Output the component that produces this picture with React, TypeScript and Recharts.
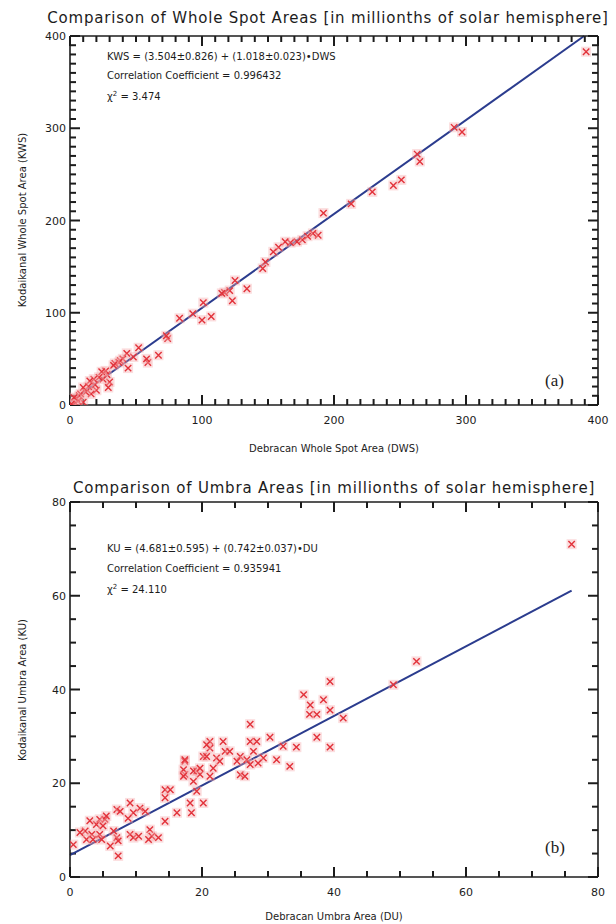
import { ScatterChart, Scatter, XAxis, YAxis, ReferenceLine } from "recharts";

// (a) whole spot areas: Debrecen (DWS) vs Kodaikanal (KWS)
const wholeDws = [
  391, 297, 291, 265, 263, 251, 245, 229, 213, 192, 188, 184, 180, 176, 172, 167, 163, 158, 154, 148,
  146, 134, 125, 123, 121, 117, 115, 107, 101, 100, 93, 83, 74, 73, 67, 59, 58, 52, 48, 44,
  43, 40, 38, 37, 34, 33, 30, 29, 28, 27, 25, 24, 22, 20, 19, 18, 16, 15, 14, 12,
  10, 10, 8, 7, 6, 5, 4, 3, 2, 1,
];
const wholeKws = [
  383, 296, 301, 264, 272, 244, 238, 231, 218, 208, 184, 186, 183, 179, 177, 176, 177, 171, 166, 155,
  148, 126, 135, 113, 124, 122, 121, 96, 111, 92, 99, 94, 72, 75, 54, 46, 50, 62, 52, 40,
  56, 50, 48, 46, 45, 43, 25, 19, 33, 37, 28, 36, 30, 16, 22, 28, 12, 26, 20, 14,
  19, 3, 12, 10, 4, 7, 2, 8, 0, 1,
];
const wholeFit = [3.504, 1.018];
const wholeMajor = [0, 100, 200, 300, 400];

// (b) umbra areas: Debrecen (DU) vs Kodaikanal (KU)
const umbraDu = [
  76, 52.5, 49, 39.4, 35.4, 38.4, 36.4, 39.4, 36.3, 37.4, 41.4, 37.4, 39.4,
  27.3, 30.3, 27.3, 28.3, 34.3, 32.3, 33.3, 31.3, 29.3, 28.5, 27.8, 25.8, 26.8, 23.2, 21.2, 21.2,
  23.5, 24.2, 20.2, 22.2, 22.7, 25.3, 27.3, 25.8, 26.5, 21.7, 21.2,
  20.7, 20.7, 17.4, 19.2, 19.7, 17.4, 18.7, 19.2, 18.2, 20.2, 18.4, 16.2, 17.4, 17.2, 18.7, 19.7, 17.2,
  14.4, 15.2, 14.4, 14.4, 12.1, 12.4, 11.9, 13.4, 10.6, 11.4, 9.1, 9.6, 8.8, 7.1, 7.6, 9.1, 9.6,
  10.4, 7.1, 7.3, 6.1, 7.3, 6.6,
  4.5, 5.3, 4, 5, 2.3, 3.3, 2.5, 3.5, 4.5, 4.8, 0.5, 1.5, 3, 5.5,
];
const umbraKu = [
  71, 46, 41, 41.7, 38.9, 37.8, 36.7, 35.6, 34.7, 34.7, 33.9, 29.8, 27.7,
  32.6, 29.8, 28.9, 28.9, 27.7, 27.9, 23.6, 25, 25.4, 24.3, 26.8, 25.7, 25, 28.9, 28.9, 27.5,
  26.8, 26.8, 25.7, 25.4, 24.7, 24.7, 24, 21.8, 21.5, 23.2, 21.5,
  28.2, 25.7, 24.7, 22.6, 21.9, 21.9, 20.4, 18.3, 15.8, 15.8, 13.7, 13.7, 25, 22.9, 22.6, 23.2, 21.5,
  18.6, 18.6, 16.9, 11.9, 10.1, 8.7, 8, 8.4, 14.7, 14, 15.8, 13.7, 12.5, 14.4, 14, 9.1, 8.4,
  8.7, 8.4, 7.7, 6.6, 4.5, 9.8,
  12.3, 12.3, 11.2, 10.9, 9.8, 9.1, 8, 8, 9.1, 8, 6.9, 9.5, 12, 13,
];
const umbraFit = [4.681, 0.742];
const umbraMajor = [0, 20, 40, 60, 80];

const FONT = "'DejaVu Sans', sans-serif";
const RED = "#e2323a";
const BLUE = "#2b3c8e";
const INK = "#1c1c1c";

function Cross(props: any) {
  const { cx, cy } = props;
  if (cx == null || cy == null) return null;
  const s = 3.2;
  return (
    <g>
      <rect x={cx - 5} y={cy - 5} width={10} height={10} fill="#f4a9ad" opacity={0.4} />
      <path
        d={`M${cx - s},${cy - s}L${cx + s},${cy + s}M${cx - s},${cy + s}L${cx + s},${cy - s}`}
        stroke={RED}
        strokeWidth={1.4}
      />
    </g>
  );
}

function TickLabel(props: any) {
  const { x, y, payload, side, major } = props;
  const v = payload ? payload.value : 0;
  if (!major.includes(v)) return null;
  if (side === "bottom")
    return (
      <text x={x} y={y + 19} textAnchor="middle" fontSize={11} fontFamily={FONT} fill={INK}>
        {v}
      </text>
    );
  return (
    <text x={x - 4} y={y + 4} textAnchor="end" fontSize={11} fontFamily={FONT} fill={INK}>
      {v}
    </text>
  );
}

function Panel(props: {
  xs: number[];
  ys: number[];
  fit: number[];
  max: number;
  major: number[];
  minor: number;
  plotTop: number;
  plotBottom: number;
  lineEnd: number;
}) {
  const { xs, ys, fit, max, major, minor, plotTop, plotBottom, lineEnd } = props;
  const H = 462;
  const plotW = 616 - 70 - 18;
  const plotH = plotBottom - plotTop;
  const data = xs.map((x, i) => ({ x, y: ys[i] }));
  const ticks = Array.from({ length: max / minor + 1 }, (_, i) => i * minor);
  const axisLine = { stroke: INK, strokeWidth: 1.6 };
  const common = {
    type: "number" as const,
    domain: [0, max],
    ticks,
    interval: 0 as const,
    tickSize: 0,
    tickMargin: 0,
    tickLine: false,
    axisLine,
    allowDataOverflow: true,
  };
  // IDL style box: inward ticks on all four sides, 10px major / 6px minor
  const marks: { a: { x: number; y: number }; b: { x: number; y: number } }[] = [];
  ticks.forEach((v) => {
    const px = major.includes(v) ? 10 : 6;
    const ly = (px * max) / plotH;
    const lx = (px * max) / plotW;
    marks.push({ a: { x: v, y: 0 }, b: { x: v, y: ly } });
    marks.push({ a: { x: v, y: max }, b: { x: v, y: max - ly } });
    marks.push({ a: { x: 0, y: v }, b: { x: lx, y: v } });
    marks.push({ a: { x: max, y: v }, b: { x: max - lx, y: v } });
  });
  return (
    <ScatterChart width={616} height={H} margin={{ top: plotTop - 1, right: 17, bottom: 0, left: 0 }}>
      <XAxis
        {...common}
        xAxisId="xb"
        dataKey="x"
        height={H - plotBottom}
        tick={<TickLabel side="bottom" major={major} />}
      />
      <XAxis {...common} xAxisId="xt" orientation="top" height={1} tick={false} />
      <YAxis {...common} yAxisId="yl" dataKey="y" width={70} tick={<TickLabel side="left" major={major} />} />
      <YAxis {...common} yAxisId="yr" orientation="right" width={1} tick={false} />
      {marks.map((m, i) => (
        <ReferenceLine
          key={i}
          xAxisId="xb"
          yAxisId="yl"
          segment={[m.a, m.b]}
          stroke={INK}
          strokeWidth={2}
          ifOverflow="visible"
        />
      ))}
      <ReferenceLine
        xAxisId="xb"
        yAxisId="yl"
        segment={[
          { x: 0, y: fit[0] },
          { x: lineEnd, y: fit[0] + fit[1] * lineEnd },
        ]}
        stroke={BLUE}
        strokeWidth={2}
        ifOverflow="visible"
      />
      <Scatter xAxisId="xb" yAxisId="yl" data={data} shape={<Cross />} isAnimationActive={false} />
    </ScatterChart>
  );
}

const txt = (extra: any): any => ({
  position: "absolute",
  fontFamily: FONT,
  color: INK,
  whiteSpace: "nowrap",
  ...extra,
});

export default function App() {
  const wholeEnd = (wholeMajor[4] - wholeFit[0]) / wholeFit[1];
  const umbraEnd = Math.max(...umbraDu);
  return (
    <div style={{ position: "absolute", left: 0, top: 0, width: 616, height: 924, background: "#fff" }}>
      <div style={{ position: "absolute", left: 0, top: 0 }}>
        <Panel
          xs={wholeDws}
          ys={wholeKws}
          fit={wholeFit}
          max={400}
          major={wholeMajor}
          minor={10}
          plotTop={36}
          plotBottom={405}
          lineEnd={wholeEnd}
        />
      </div>
      <div style={{ position: "absolute", left: 0, top: 462 }}>
        <Panel
          xs={umbraDu}
          ys={umbraKu}
          fit={umbraFit}
          max={80}
          major={umbraMajor}
          minor={5}
          plotTop={40}
          plotBottom={415}
          lineEnd={umbraEnd}
        />
      </div>

      <div style={txt({ left: 328, top: 18, fontSize: 15, letterSpacing: 0.8, transform: "translate(-50%,-50%)" })}>
        Comparison of Whole Spot Areas [in millionths of solar hemisphere]
      </div>
      <div style={txt({ left: 107, top: 48, fontSize: 10, lineHeight: "18.5px" })}>
        KWS = (3.504±0.826) + (1.018±0.023)•DWS
        <br />
        Correlation Coefficient = 0.996432
        <br />
        χ<sup style={{ fontSize: 7 }}>2</sup> = 3.474
      </div>
      <div style={txt({ left: 545, top: 371, fontSize: 17, fontFamily: "'Liberation Serif', serif" })}>(a)</div>
      <div style={txt({ left: 334, top: 448, fontSize: 10, transform: "translate(-50%,-50%)" })}>
        Debracan Whole Spot Area (DWS)
      </div>
      <div style={txt({ left: 22, top: 220, fontSize: 10, transform: "translate(-50%,-50%) rotate(-90deg)" })}>
        Kodaikanal Whole Spot Area (KWS)
      </div>

      <div style={txt({ left: 334, top: 488, fontSize: 15, letterSpacing: 0.8, transform: "translate(-50%,-50%)" })}>
        Comparison of Umbra Areas [in millionths of solar hemisphere]
      </div>
      <div style={txt({ left: 107, top: 539, fontSize: 10, lineHeight: "19.5px" })}>
        KU = (4.681±0.595) + (0.742±0.037)•DU
        <br />
        Correlation Coefficient = 0.935941
        <br />
        χ<sup style={{ fontSize: 7 }}>2</sup> = 24.110
      </div>
      <div style={txt({ left: 545, top: 838, fontSize: 17, fontFamily: "'Liberation Serif', serif" })}>(b)</div>
      <div style={txt({ left: 334, top: 916, fontSize: 10, transform: "translate(-50%,-50%)" })}>
        Debracan Umbra Area (DU)
      </div>
      <div style={txt({ left: 22, top: 690, fontSize: 10, transform: "translate(-50%,-50%) rotate(-90deg)" })}>
        Kodaikanal Umbra Area (KU)
      </div>
    </div>
  );
}
